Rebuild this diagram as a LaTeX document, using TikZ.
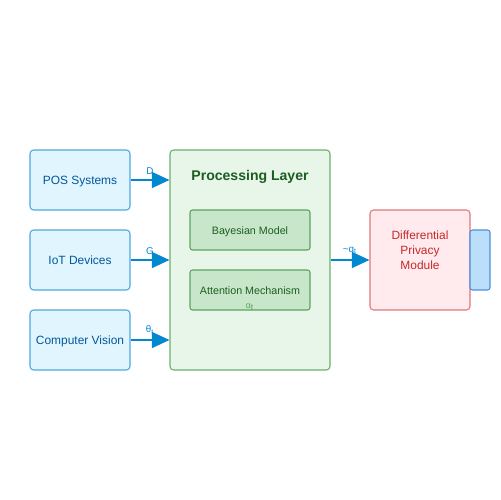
\documentclass[tikz,border=0pt]{standalone}
\usepackage{fontspec}
\setmainfont{Liberation Sans}
\usetikzlibrary{arrows.meta}
\definecolor{inFill}{HTML}{E1F5FE}
\definecolor{inLine}{HTML}{4FA8E0}
\definecolor{inText}{HTML}{01579B}
\definecolor{arrowCol}{HTML}{0288D1}
\definecolor{procFill}{HTML}{E8F5E9}
\definecolor{procLine}{HTML}{6AAF6E}
\definecolor{procText}{HTML}{1B5E20}
\definecolor{modFill}{HTML}{C8E6C9}
\definecolor{modLine}{HTML}{5AA45E}
\definecolor{dpFill}{HTML}{FFEBEE}
\definecolor{dpLine}{HTML}{E0767A}
\definecolor{dpText}{HTML}{C62828}
\definecolor{outFill}{HTML}{BBDEFB}
\definecolor{outLine}{HTML}{4A90D9}

\begin{document}
\begin{tikzpicture}[x=0.02cm,y=-0.02cm,
	inbox/.style={draw=inLine,fill=inFill,text=inText,rounded corners=0.07cm,line width=0.6pt,
		minimum width=2cm,minimum height=1.2cm,inner sep=0pt,text height=4.9pt,text depth=0pt,
		font=\fontsize{6.8}{8}\selectfont},
	modbox/.style={draw=modLine,fill=modFill,text=procText,rounded corners=0.05cm,line width=0.6pt,
		minimum width=2.4cm,minimum height=0.8cm,inner sep=0pt,text height=5.6pt,text depth=0pt,
		font=\fontsize{6.1}{7}\selectfont},
	flow/.style={draw=arrowCol,line width=1.1pt,-{Triangle[length=10pt,width=9pt]}},
	flowlabel/.style={text=arrowCol,font=\fontsize{5.6}{6}\selectfont,inner sep=0pt,above=2.8pt}]
	\useasboundingbox (0,0) rectangle (500,500);
	% inputs
	\node[inbox] (pos) at (80,180) {POS Systems};
	\node[inbox] (iot) at (80,260) {IoT Devices};
	\node[inbox] (cv) at (80,340) {Computer Vision};
	% processing layer
	\node[draw=procLine,fill=procFill,rounded corners=0.07cm,line width=0.6pt,
		minimum width=3.2cm,minimum height=4.4cm] (proc) at (250,260) {};
	\node[text=procText,font=\fontsize{8}{9}\selectfont\bfseries,text height=5.7pt,text depth=0pt] (title) at (250,175) {Processing Layer};
	\node[modbox] (bayes) at (250,230) {Bayesian Model};
	\node[modbox] (attn) at (250,290) {Attention Mechanism};
	\node[text=modLine,font=\fontsize{5}{5}\selectfont,inner sep=0pt] (alpha) at (250,307) {α\textsubscript{t}};
	% privacy and output
	\node[draw=dpLine,fill=dpFill,rounded corners=0.07cm,line width=0.6pt,
		minimum width=2cm,minimum height=2cm,inner sep=0pt] (dp) at (420,260) {};
	\node[text=dpText,align=center,anchor=base,font=\fontsize{6.8}{8.5}\selectfont] (dptext) at (420,269.3) {Differential\\Privacy\\Module};
	\node[draw=outLine,fill=outFill,rounded corners=0.05cm,line width=0.6pt,
		minimum width=0.4cm,minimum height=1.2cm,inner sep=0pt] (out) at (480,260) {};
	% connectors
	\draw[flow] (pos.east) -- (proc.west |- pos.east) node[midway,flowlabel] {D};
	\draw[flow] (iot.east) -- (proc.west |- iot.east) node[midway,flowlabel] {G};
	\draw[flow] (cv.east) -- (proc.west |- cv.east) node[midway,flowlabel] {θ\textsubscript{t}};
	\draw[flow] (proc.east |- dp.west) -- (dp.west) node[midway,flowlabel] {\textasciitilde q\textsubscript{t}};
\end{tikzpicture}
\end{document}
